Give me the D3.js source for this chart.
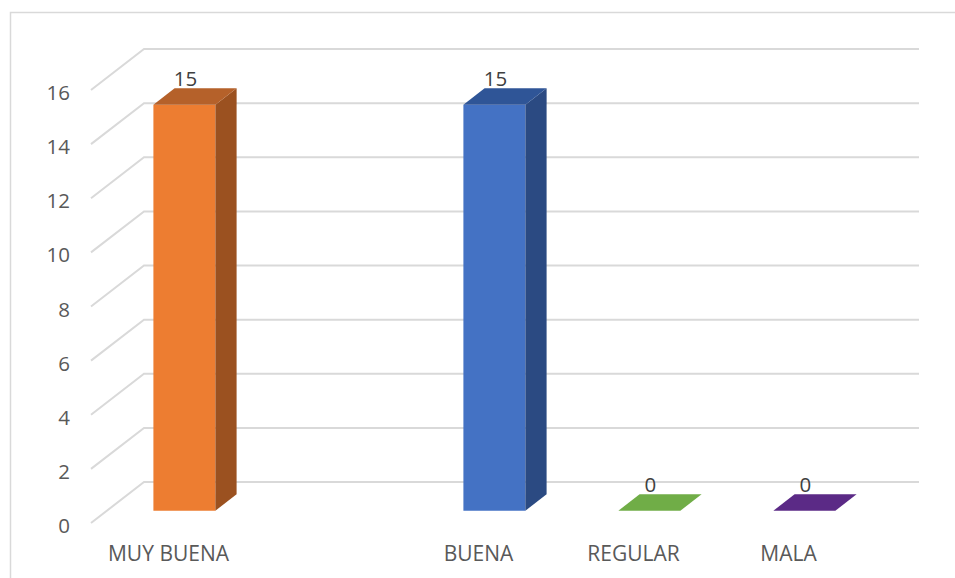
<!DOCTYPE html>
<html>
<head>
<meta charset="utf-8">
<script src="https://cdn.jsdelivr.net/npm/d3@7"></script>
<style>
html,body{margin:0;padding:0;background:#fff;}
svg{display:block;}
text{font-family:"Open Sans","Liberation Sans",sans-serif;}
</style>
</head>
<body>
<svg id="chart" width="955" height="578"></svg>
<script>
// ---- data ----
const categories = ["MUY BUENA", "", "BUENA", "REGULAR", "MALA"];
const values = [15, null, 15, 0, 0];
const yTicks = [0, 2, 4, 6, 8, 10, 12, 14, 16];
const frontColors = ["#ED7D31", null, "#4472C4", "#70AD47", "#5B2A86"];
const topColors   = ["#B5612A", null, "#2F5597", "#6A9E3B", "#55287E"];
const sideColors  = ["#9B5120", null, "#2B4A82", "#4E7A2E", "#3E1C5C"];

// ---- layout ----
const DX = 53, DY = 41;          // full depth projection offset
const zFront = 0.3, zBack = 0.7; // bar depth range
const svg = d3.select("#chart");

const x = d3.scaleBand().domain(categories.map((c, i) => i)).range([91, 866]).padding(0);
const y = d3.scaleLinear().domain([0, 16]).range([523, 90]);

const P = (px, v, z) => [px + DX * z, y(v) - DY * z];

// outer border
svg.append("rect").attr("x", 10.5).attr("y", 12.5).attr("width", 960).attr("height", 580)
  .attr("fill", "none").attr("stroke", "#D9D9D9").attr("stroke-width", 1.5);

// gridlines: side wall diagonal + back wall horizontal
const grid = svg.append("g").attr("stroke", "#D9D9D9").attr("stroke-width", 2).attr("fill", "none");
yTicks.forEach(t => {
  const a = P(x.range()[0], t, 0), b = P(x.range()[0], t, 1), c = P(x.range()[1], t, 1);
  grid.append("path").attr("d", `M${a[0]},${a[1]}L${b[0]},${b[1]}L${c[0]},${c[1]}`);
});

// y axis labels
svg.append("g").selectAll("text").data(yTicks).join("text")
  .attr("x", 70).attr("y", d => y(d) + 2)
  .attr("text-anchor", "end").attr("dominant-baseline", "central")
  .attr("font-size", 20.5).attr("fill", "#595959").text(d => d);

// bars
const bw = x.bandwidth() * 0.4;
const bars = svg.append("g");
values.forEach((v, i) => {
  if (v === null) return;
  const cx = x(i) + x.bandwidth() / 2;
  const x0 = cx - bw / 2, x1 = cx + bw / 2;
  const poly = pts => pts.map(p => p.join(",")).join(" ");
  const f00 = P(x0, 0, zFront), f10 = P(x1, 0, zFront), f1v = P(x1, v, zFront), f0v = P(x0, v, zFront);
  const b10 = P(x1, 0, zBack), b1v = P(x1, v, zBack), b0v = P(x0, v, zBack);
  if (v > 0) {
    bars.append("polygon").attr("points", poly([f00, f10, f1v, f0v])).attr("fill", frontColors[i]);
    bars.append("polygon").attr("points", poly([f10, b10, b1v, f1v])).attr("fill", sideColors[i]);
  }
  bars.append("polygon").attr("points", poly([f0v, f1v, b1v, b0v]))
    .attr("fill", v > 0 ? topColors[i] : frontColors[i]);
  // data label
  const lab = P(cx, v, zBack);
  svg.append("text").attr("x", cx + DX * zFront + 1).attr("y", lab[1] - 2)
    .attr("text-anchor", "middle").attr("font-size", 20.5).attr("fill", "#404040").text(v);
});

// category labels
svg.append("g").selectAll("text").data(categories.map((c, i) => ({c, i}))).join("text")
  .attr("x", d => x(d.i) + x.bandwidth() / 2).attr("y", 561)
  .attr("text-anchor", "middle").attr("font-size", 21).attr("fill", "#595959").text(d => d.c);
</script>
</body>
</html>
